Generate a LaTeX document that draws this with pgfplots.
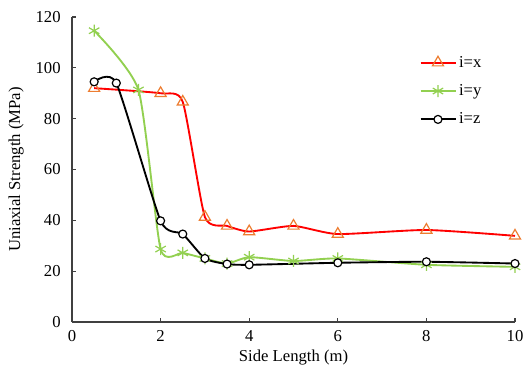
\documentclass[border=0pt]{standalone}
\usepackage{pgfplots}
\pgfplotsset{compat=1.18}
\usepackage{fontspec}
\setmainfont{Liberation Serif}
\definecolor{redl}{RGB}{255,0,0}
\definecolor{orm}{RGB}{237,125,49}
\definecolor{grn}{RGB}{146,208,80}
\begin{document}
\begin{tikzpicture}
\begin{axis}[
  scale only axis,
  width=332.25pt, height=228.75pt,
  xmin=0, xmax=10, ymin=0, ymax=120,
  xtick={0,2,...,10}, ytick={0,20,...,120},
  axis lines=left,
  axis line style={-, draw=black!75, line width=0.8pt},
  tick style={draw=black!75, line width=0.8pt},
  tick align=inside,
  major tick length=3pt,
  /pgf/number format/assume math mode=true,
  tick label style={font=\fontsize{12.5}{14}\selectfont},
  yticklabel style={xshift=-5pt},
  xticklabel style={yshift=-3pt},
  label style={font=\fontsize{12.5}{14}\selectfont},
  xlabel={Side Length (m)},
  ylabel={Uniaxial Strength (MPa)},
  xlabel style={yshift=1pt},
  ylabel style={yshift=2pt},
  legend style={draw=none, fill=none, at={(0.775,0.89)}, anchor=north west,
    font=\fontsize{12.5}{14}\selectfont, row sep=7.5pt,
    /tikz/every even column/.append style={column sep=2pt}},
  legend cell align=left,
  legend image code/.code={
    \draw[#1, mark repeat=2, mark phase=2] plot coordinates {(0cm,0cm) (0.46cm,0cm) (0.92cm,0cm)};
  },
]
\addplot[redl, line width=1.4pt, smooth, tension=0.35, mark=triangle, mark size=4.8pt,
  mark options={draw=orm, fill=white, line width=0.9pt, solid}] coordinates {
  (0.5,92) (2,90) (2.5,86.6) (3,41.3) (3.5,37.8) (4,35.6) (5,37.8) (6,34.6) (8,36.2) (10,33.9)
};
\addlegendentry{i=x}
\addplot[grn, line width=1.4pt, smooth, tension=0.35, mark=asterisk, mark size=4.5pt,
  mark options={draw=grn, line width=0.9pt, solid}] coordinates {
  (0.5,114.6) (1.5,91.3) (2,28.7) (2.5,27.2) (3,25) (3.5,23) (4,25.5) (5,24) (6,25) (8,22.5) (10,21.7)
};
\addlegendentry{i=y}
\addplot[black, line width=1.4pt, smooth, tension=0.35, mark=*, mark size=3pt,
  mark options={draw=black, fill=white, line width=0.9pt, solid}] coordinates {
  (0.5,94.5) (1,94) (2,39.8) (2.5,34.6) (3,25) (3.5,22.8) (4,22.5) (6,23.3) (8,23.7) (10,23)
};
\addlegendentry{i=z}
\end{axis}
\pgfresetboundingbox
\path[use as bounding box] ([shift={(-54pt,-39pt)}]current axis.south west) rectangle ([shift={(9.75pt,12.75pt)}]current axis.north east);
\end{tikzpicture}
\end{document}
